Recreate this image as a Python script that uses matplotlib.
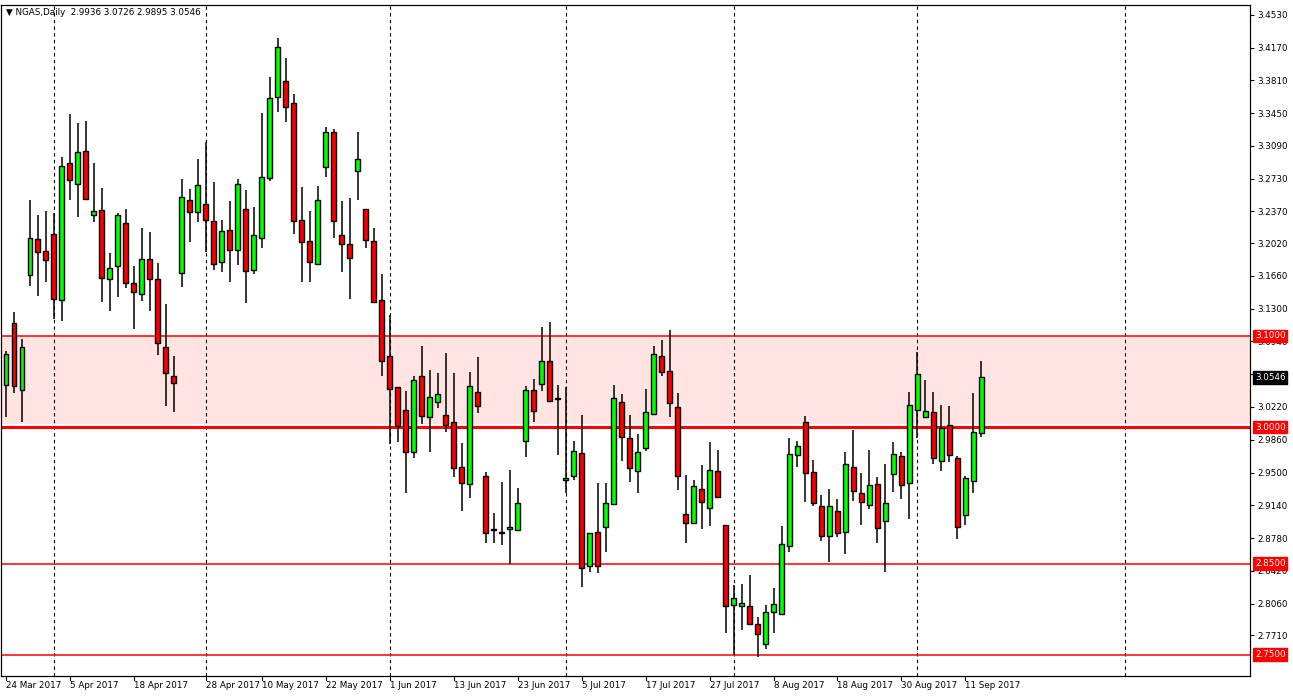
import matplotlib
matplotlib.use("Agg")
import matplotlib.pyplot as plt
import numpy as np

opens = [3.046,3.114,3.041,3.167,3.207,3.193,3.212,3.140,3.290,3.267,3.303,3.233,3.238,3.163,3.177,3.224,3.158,3.146,3.185,3.163,
         3.088,3.056,3.169,3.249,3.236,3.245,3.226,3.181,3.216,3.195,3.240,3.172,3.208,3.274,3.363,3.380,3.356,3.227,3.204,3.179,
         3.286,3.324,3.211,3.201,3.281,3.240,3.204,3.140,3.078,3.044,3.019,2.973,3.056,3.011,3.027,3.013,3.005,2.956,2.937,3.039,
         2.946,2.887,2.885,2.888,2.887,2.985,3.041,3.047,3.072,3.031,2.942,2.946,2.971,2.847,2.885,2.890,2.915,3.028,2.988,2.952,
         2.977,3.014,3.078,3.061,3.022,2.904,2.895,2.932,2.911,2.952,2.892,2.804,2.803,2.803,2.783,2.762,2.797,2.795,2.869,2.969,
         3.006,2.950,2.913,2.880,2.908,2.885,2.956,2.928,2.914,2.937,2.897,2.948,2.968,2.938,3.019,3.011,3.016,2.963,3.002,2.966,
         2.903,2.941,2.9936]
highs = [3.083,3.126,3.097,3.249,3.233,3.237,3.235,3.297,3.344,3.334,3.336,3.290,3.263,3.191,3.235,3.240,3.177,3.219,3.214,3.180,
         3.135,3.078,3.272,3.261,3.294,3.313,3.269,3.228,3.248,3.272,3.260,3.242,3.345,3.385,3.428,3.405,3.366,3.264,3.237,3.265,
         3.330,3.328,3.248,3.252,3.324,3.240,3.219,3.168,3.123,3.044,3.040,3.056,3.089,3.063,3.059,3.081,3.059,2.982,3.060,3.077,
         2.951,2.905,2.940,2.953,2.933,3.045,3.053,3.110,3.115,3.046,3.044,2.985,3.013,2.884,2.939,2.939,3.046,3.036,3.013,2.992,
         3.042,3.089,3.096,3.107,3.037,2.947,2.942,2.958,2.983,2.975,2.892,2.826,2.828,2.837,2.791,2.804,2.823,2.891,2.988,2.985,
         3.012,2.964,2.925,2.932,2.921,2.972,2.997,2.950,2.975,2.945,2.959,2.983,2.973,3.039,3.082,3.052,3.038,3.024,3.023,2.968,
         2.946,3.037,3.0726]
lows = [3.011,3.037,3.005,3.155,3.144,3.159,3.119,3.116,3.249,3.231,3.249,3.225,3.137,3.128,3.143,3.153,3.108,3.138,3.128,3.079,
        3.023,3.016,3.154,3.203,3.225,3.192,3.173,3.170,3.159,3.178,3.136,3.168,3.197,3.270,3.346,3.335,3.212,3.159,3.159,3.178,
        3.275,3.208,3.170,3.141,3.250,3.197,3.136,3.056,2.981,2.984,2.928,2.966,3.003,2.973,3.021,2.995,2.945,2.908,2.922,3.015,
        2.873,2.872,2.870,2.849,2.886,2.967,3.005,3.040,3.027,2.969,2.927,2.942,2.824,2.841,2.840,2.863,2.915,2.963,2.940,2.927,
        2.974,3.014,3.056,3.011,2.931,2.872,2.895,2.888,2.891,2.922,2.774,2.750,2.777,2.782,2.747,2.756,2.774,2.795,2.863,2.956,
        2.918,2.913,2.875,2.852,2.879,2.860,2.919,2.892,2.910,2.873,2.841,2.929,2.921,2.899,2.988,3.011,2.959,2.952,2.961,2.877,
        2.892,2.928,2.9895]
closes = [3.080,3.045,3.088,3.208,3.192,3.183,3.141,3.287,3.271,3.302,3.251,3.237,3.164,3.175,3.233,3.158,3.148,3.185,3.163,3.092,
          3.059,3.048,3.253,3.236,3.266,3.228,3.179,3.215,3.195,3.267,3.171,3.211,3.275,3.361,3.418,3.352,3.226,3.203,3.181,3.249,
          3.324,3.226,3.201,3.186,3.294,3.206,3.137,3.073,3.042,3.001,2.972,3.052,3.012,3.033,3.036,3.002,2.955,2.939,3.045,3.023,
          2.883,2.887,2.884,2.890,2.916,3.041,3.018,3.073,3.029,3.031,2.944,2.974,2.845,2.883,2.847,2.916,3.032,2.989,2.955,2.972,
          3.017,3.080,3.060,3.026,2.946,2.895,2.935,2.918,2.953,2.923,2.803,2.812,2.807,2.784,2.772,2.797,2.806,2.871,2.970,2.979,
          2.950,2.916,2.880,2.913,2.883,2.959,2.930,2.918,2.936,2.889,2.916,2.970,2.936,3.024,3.058,3.018,2.966,2.999,2.969,2.890,
          2.944,2.995,3.0546]

date_idx = [0,8,16,25,32,40,48,56,64,72,80,88,96,104,112,120]
date_labels = ["24 Mar 2017","5 Apr 2017","18 Apr 2017","28 Apr 2017","10 May 2017","22 May 2017","1 Jun 2017",
               "13 Jun 2017","23 Jun 2017","5 Jul 2017","17 Jul 2017","27 Jul 2017","8 Aug 2017","18 Aug 2017",
               "30 Aug 2017","11 Sep 2017"]
grid_idx = [6,25,48,70,91,114,140]
price_ticks = [3.4530,3.4170,3.3810,3.3450,3.3090,3.2730,3.2370,3.2020,3.1660,3.1300,3.0940,3.0580,3.0220,
               2.9860,2.9500,2.9140,2.8780,2.8420,2.8060,2.7710]
levels = [3.1000,3.0000,2.8500,2.7500]
last_price = 3.0546

W, H = 1293, 698
fig = plt.figure(figsize=(W/100, H/100), dpi=100)
fig.patch.set_facecolor("white")
ax = fig.add_axes([1/W, (H-676)/H, 1249/W, 671/H])
ymin, ymax = 3 - 249/910, 3 + 422/910
ax.set_xlim(-0.625, 155.6)
ax.set_ylim(ymin, ymax)
ax.set_facecolor("white")
ax.set_xticks([]); ax.set_yticks([])

ax.axhspan(3.003, 3.1, color="#ffe4e1", zorder=0, lw=0)
for g in grid_idx:
    ax.axvline(g, color="black", ls=(0, (3, 3)), lw=0.8, zorder=1)
for lv in levels:
    ax.axhline(lv, color="red", lw=2.2 if lv == 3.0 else 1.1, zorder=2)

o = np.array(opens); c = np.array(closes); h = np.array(highs); l = np.array(lows)
x = np.arange(len(o))
ax.vlines(x, l, h, color="black", lw=1.1, zorder=3)
up = c >= o
cols = np.where(up, "#00ff00", "#ff0000")
bottoms = np.minimum(o, c)
heights = np.maximum(np.abs(c - o), 0.0004)
ax.bar(x, heights, bottom=bottoms, width=0.62, color=cols, edgecolor="black", lw=1.0, zorder=4)

for s in ax.spines.values():
    s.set_color("black"); s.set_linewidth(0.8)

ax2 = ax.twinx()
ax2.set_ylim(ymin, ymax)
ax2.set_yticks(price_ticks)
ax2.set_yticks([], minor=True)
ax2.set_yticklabels([f"{t:.4f}" for t in price_ticks], fontsize=6.3, family="DejaVu Sans")
ax2.tick_params(axis="y", which="both", left=False, labelleft=False, length=3, pad=2, width=0.8)
for lv in levels:
    ax2.text(1.004, lv, f"{lv:.4f}", transform=ax2.get_yaxis_transform(), fontsize=6.3, color="white",
             va="center", ha="left", zorder=10,
             bbox=dict(boxstyle="square,pad=0.2", fc="red", ec="red"))
ax2.text(1.004, last_price, f"{last_price:.4f}", transform=ax2.get_yaxis_transform(), fontsize=6.3, color="white",
         va="center", ha="left", zorder=10, bbox=dict(boxstyle="square,pad=0.2", fc="black", ec="black"))

for i, lab in zip(date_idx, date_labels):
    ax.text(i, -0.008, lab, transform=ax.get_xaxis_transform(), fontsize=6.3, ha="left", va="top")
    ax.plot([i, i], [0, -0.006], transform=ax.get_xaxis_transform(), color="black", lw=0.8, clip_on=False)

ax.text(0.004, 0.995, "\u25bc NGAS,Daily  2.9936 3.0726 2.9895 3.0546", transform=ax.transAxes,
        fontsize=6.3, ha="left", va="top")

fig.savefig("out.png", dpi=100, facecolor="white")
